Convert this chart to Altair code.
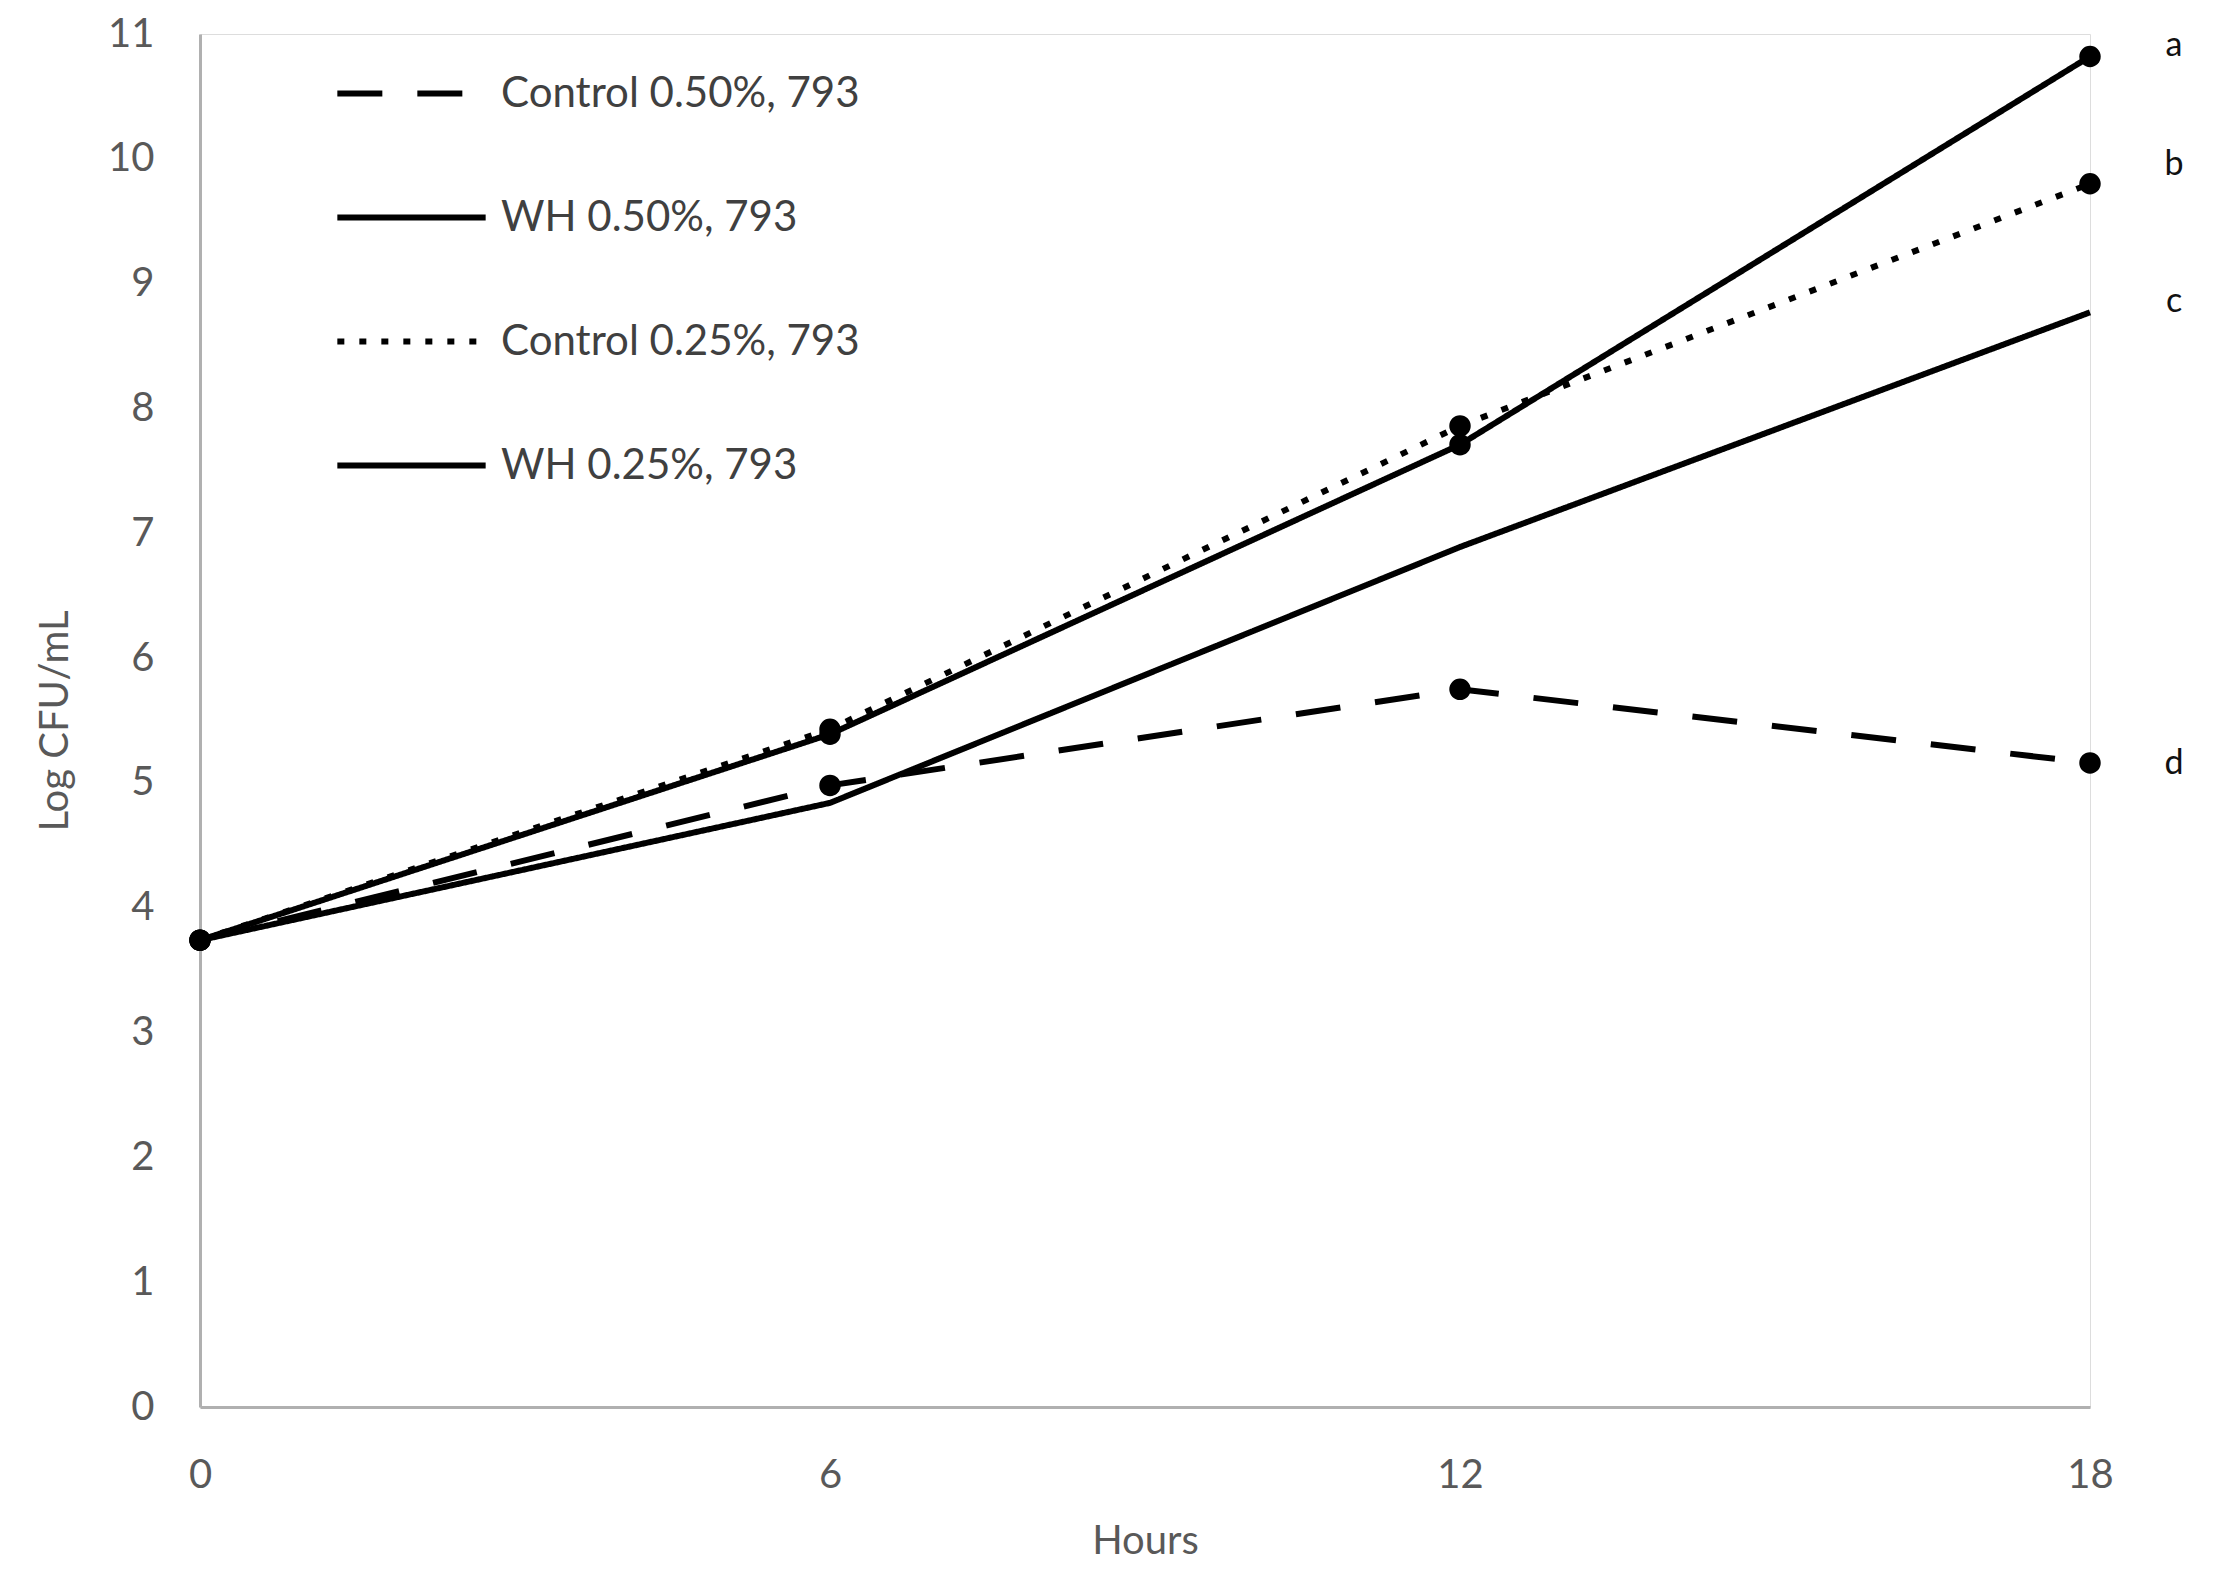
import altair as alt
import pandas as pd

hours = [0, 6, 12, 18]
series_names = ["Control 0.50%, 793", "WH 0.50%, 793", "Control 0.25%, 793", "WH 0.25%, 793"]
control_050 = [3.74, 4.98, 5.75, 5.16]
wh_050 = [3.74, 4.84, 6.89, 8.77]
control_025 = [3.74, 5.43, 7.86, 9.80]
wh_025 = [3.74, 5.39, 7.71, 10.82]
sig_letters = ["d", "c", "b", "a"]
letter_y = [5.15, 8.85, 9.95, 10.9]
marker_series = ["Control 0.50%, 793", "Control 0.25%, 793", "WH 0.25%, 793"]

rows = []
for name, vals in zip(series_names, [control_050, wh_050, control_025, wh_025]):
    for h, v in zip(hours, vals):
        rows.append({"Hours": h, "value": v, "series": name})
df = pd.DataFrame(rows)
lab = pd.DataFrame({"Hours": [18] * 4, "value": letter_y, "letter": sig_letters})

FONT = "Lato"
x_enc = alt.X("Hours:Q", scale=alt.Scale(domain=[0, 18], nice=False),
              axis=alt.Axis(values=hours, format="d", title="Hours", ticks=False, grid=False,
                            labelFlush=False, labelPadding=48, titlePadding=26,
                            domainColor="#b0b0b0", domainWidth=3, labelFontSize=40,
                            titleFontSize=40, labelColor="#595959", titleColor="#595959",
                            labelFont=FONT, titleFont=FONT, titleFontWeight="normal"))
y_enc = alt.Y("value:Q", scale=alt.Scale(domain=[0, 11], nice=False),
              axis=alt.Axis(values=list(range(0, 12)), format="d", title="Log CFU/mL",
                            ticks=False, grid=False, labelFlush=False, labelPadding=46,
                            titlePadding=32, domainColor="#b0b0b0", domainWidth=3,
                            labelFontSize=40, titleFontSize=40, labelColor="#595959",
                            titleColor="#595959", labelFont=FONT, titleFont=FONT,
                            titleFontWeight="normal"))

lines = alt.Chart(df).mark_line(color="black", strokeWidth=6).encode(
    x=x_enc, y=y_enc,
    strokeDash=alt.StrokeDash("series:N",
        scale=alt.Scale(domain=series_names, range=[[45, 35], [1, 0], [7, 15], [1, 0]]),
        sort=series_names,
        legend=alt.Legend(title=None, orient="none", legendX=134, legendY=-18,
                          direction="vertical", symbolType="stroke", symbolSize=22000,
                          symbolStrokeWidth=6, symbolStrokeColor="black",
                          labelFontSize=42, labelFont=FONT, labelColor="#404040",
                          labelOffset=12, rowPadding=25, labelLimit=700)),
    detail="series:N",
)

points = alt.Chart(df).transform_filter(
    alt.FieldOneOfPredicate(field="series", oneOf=marker_series)
).mark_point(filled=True, shape="circle", size=460, color="black", opacity=1).encode(
    x="Hours:Q", y="value:Q")

letters = alt.Chart(lab).mark_text(dx=84, fontSize=34, font=FONT, color="#111111").encode(
    x="Hours:Q", y="value:Q", text="letter:N")

chart = alt.layer(lines, points, letters).properties(
    width=1890, height=1373,
    autosize=alt.AutoSizeParams(type="none"),
    padding={"left": 192, "top": 26, "right": 110, "bottom": 160},
).configure_view(stroke=None).configure(background="white")

chart.save("out.html", embed_options={"renderer": "svg", "actions": False})
